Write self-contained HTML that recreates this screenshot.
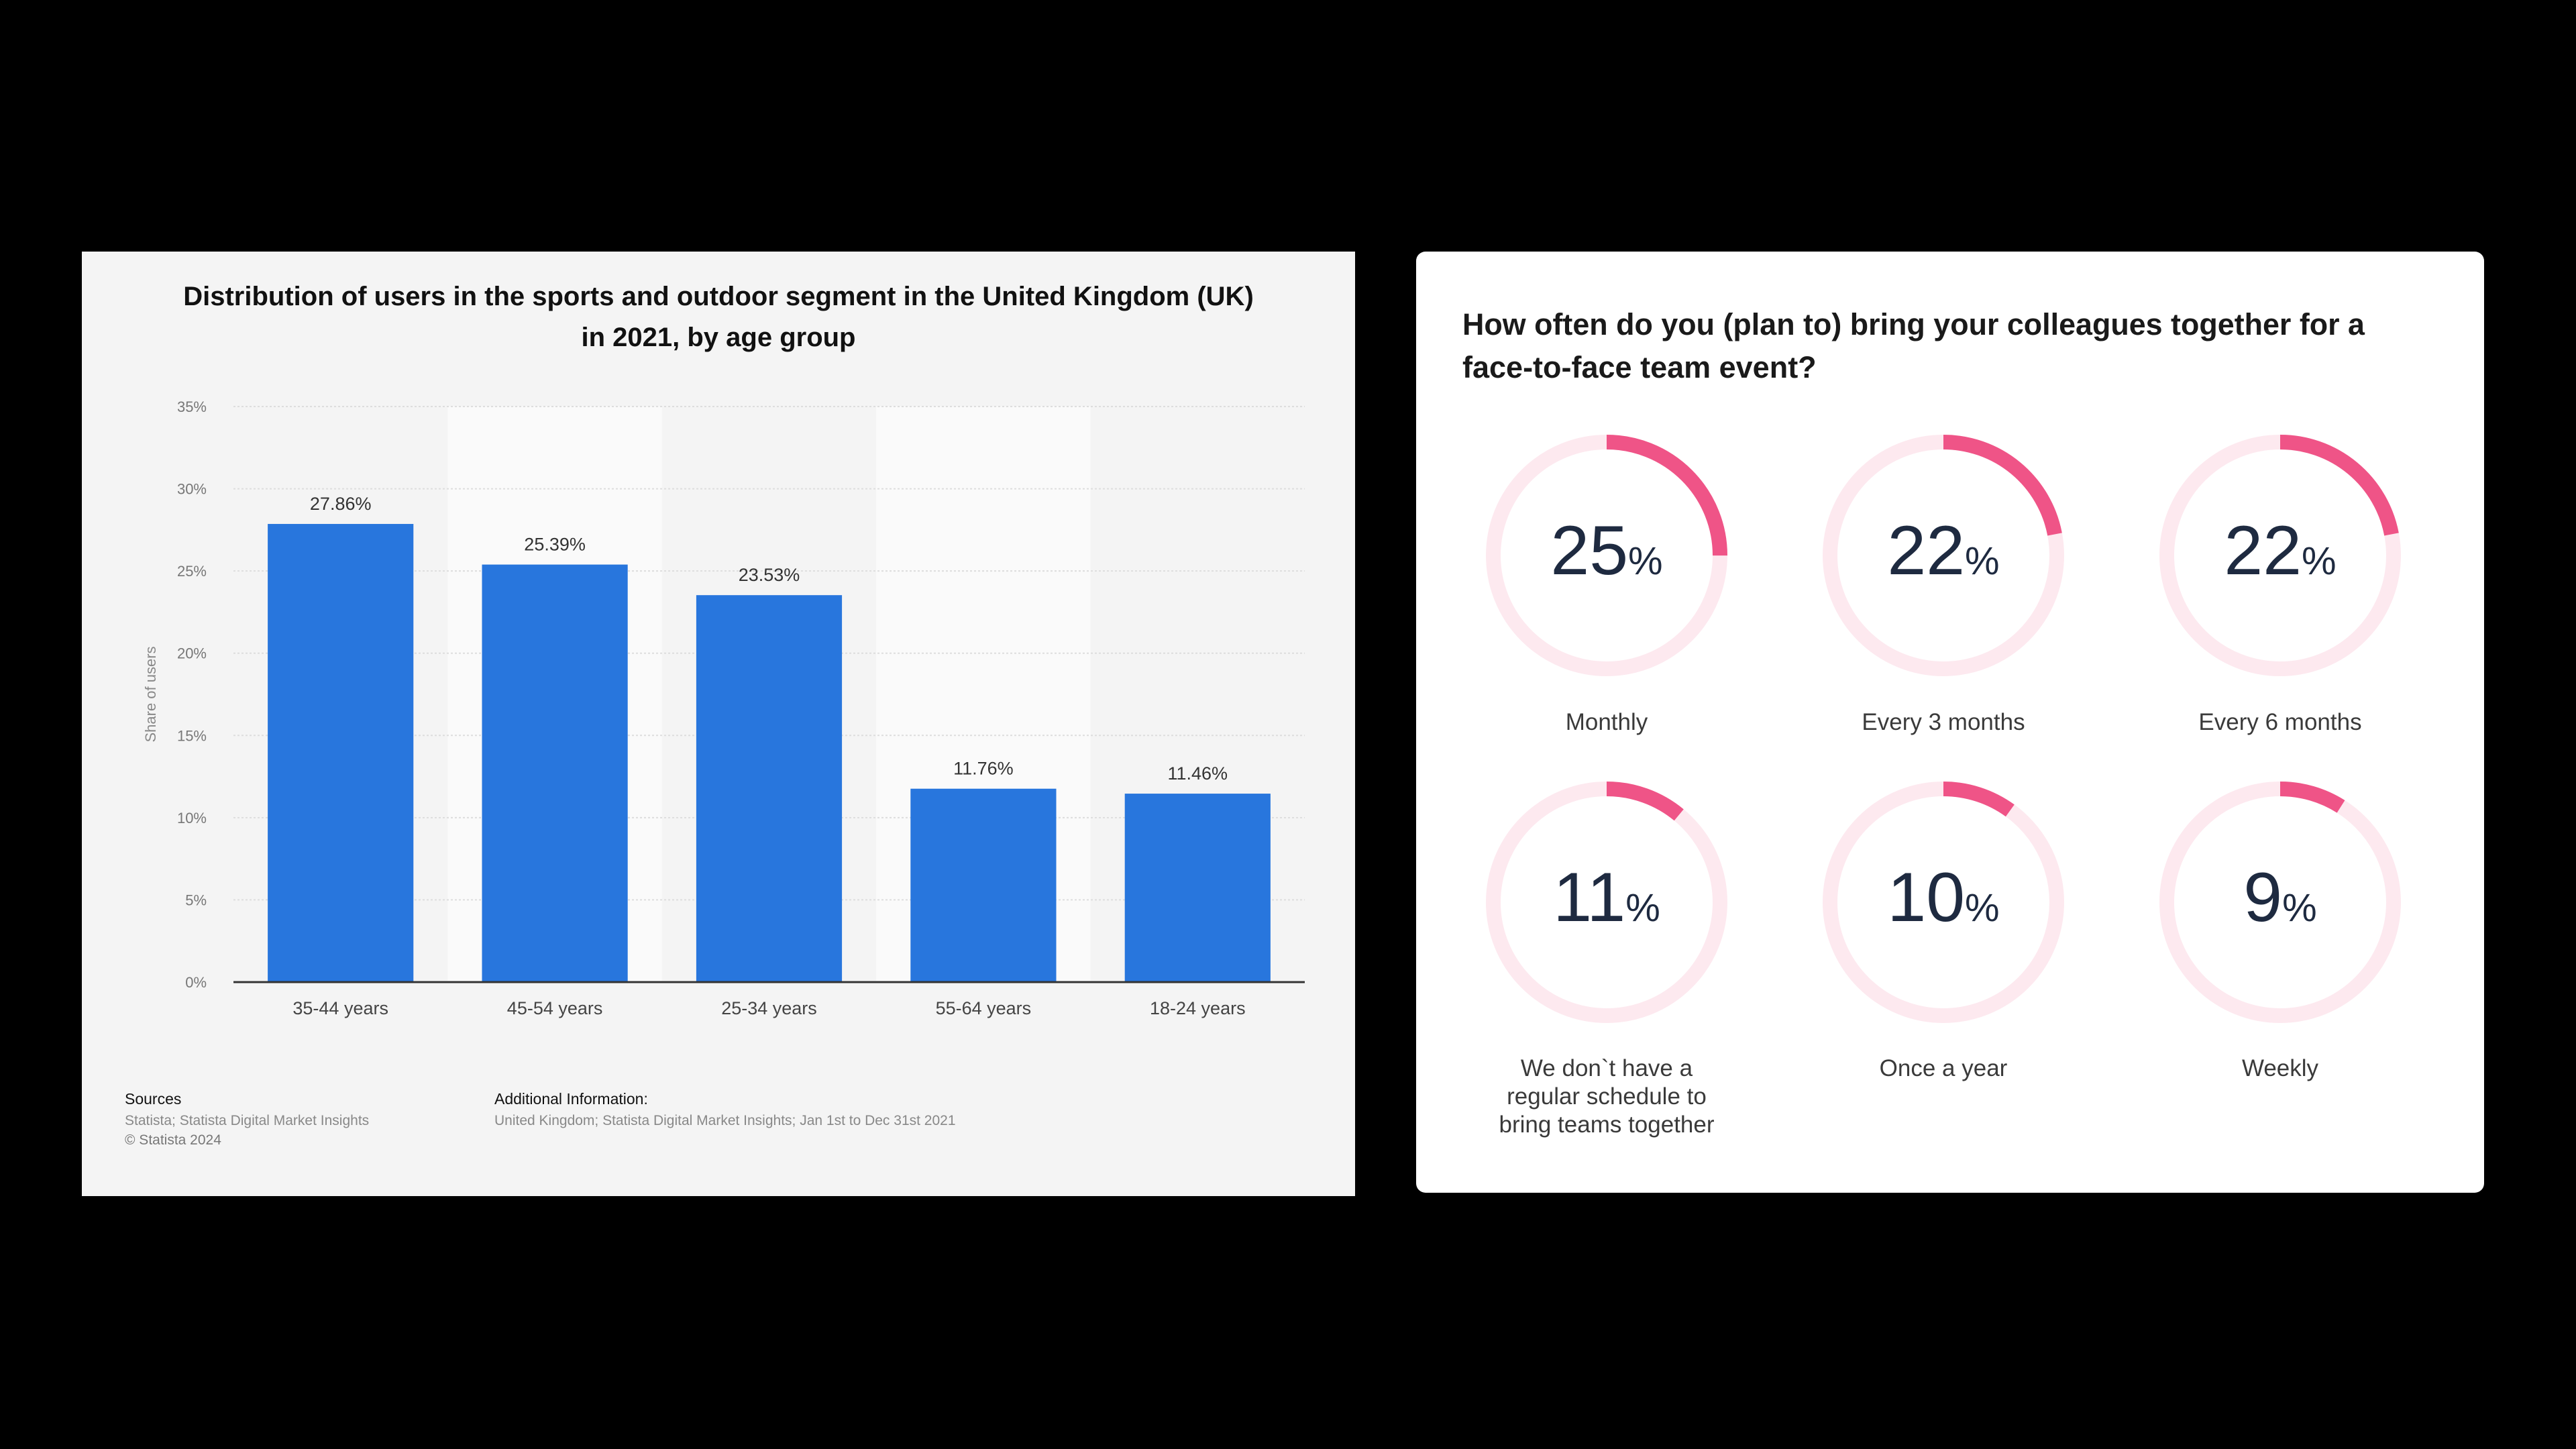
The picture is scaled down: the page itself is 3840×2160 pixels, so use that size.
<!DOCTYPE html>
<html><head><meta charset="utf-8"><style>
body{margin:0;width:3840px;height:2160px;background:#000;overflow:hidden;font-family:"Liberation Sans",sans-serif}
#left{position:absolute;left:122px;top:375px;width:1898px;height:1408px;background:#f4f4f4}
#right{position:absolute;left:2111px;top:375px;width:1592px;height:1403px;background:#fff;border-radius:14px}
</style></head><body>
<div id="left">
<svg id="bar" width="1898" height="1408"></svg>
</div>
<div id="right">
<svg id="donuts" width="1592" height="1403"></svg>
</div>
<script>
const categories=["35-44 years","45-54 years","25-34 years","55-64 years","18-24 years"];
const values=[27.86,25.39,23.53,11.76,11.46];
const valueLabels=["27.86%","25.39%","23.53%","11.76%","11.46%"];
const yTicks=[0,5,10,15,20,25,30,35];
const dLabels=[["Monthly"],["Every 3 months"],["Every 6 months"],["We don`t have a","regular schedule to","bring teams together"],["Once a year"],["Weekly"]];
const dValues=[25,22,22,11,10,9];
const NS="http://www.w3.org/2000/svg";
function mk(p,t,a,txt){const e=document.createElementNS(NS,t);for(const k in a)e.setAttribute(k,a[k]);if(txt!==undefined)e.textContent=txt;p.appendChild(e);return e;}
const b=document.getElementById('bar');
const x0=226,x1=1823,yb=1089,yt=231;
const y=v=>yb-(v/35)*(yb-yt);
const cw=(x1-x0)/categories.length;
let t=mk(b,'text',{x:949,y:80,'text-anchor':'middle','font-size':40,'font-weight':'bold',fill:'#111'},'Distribution of users in the sports and outdoor segment in the United Kingdom (UK)');

mk(b,'text',{x:949,y:141,'text-anchor':'middle','font-size':40,'font-weight':'bold',fill:'#111'},'in 2021, by age group');
categories.forEach((c,i)=>{if(i%2==1){const r=mk(b,'rect',{x:x0+cw*i,y:yt,width:cw,height:yb-yt,fill:'#fafafa'});}});
yTicks.forEach(v=>{
 if(v>0){const l=mk(b,'line',{x1:x0,x2:x1,y1:y(v),y2:y(v),stroke:'#ddd','stroke-width':2,'stroke-dasharray':'3 3'});}
 const tl=mk(b,'text',{x:186,y:y(v)+8,'text-anchor':'end','font-size':22,fill:'#777'},v+'%');
 
});
categories.forEach((c,i)=>{
 const cx=x0+cw*(i+0.5),bw=cw*0.68;
 const r=mk(b,'rect',{x:cx-bw/2,y:y(values[i]),width:bw,height:yb-y(values[i]),fill:'#2876dd'});
 
 const vl=mk(b,'text',{x:cx,y:y(values[i])-21,'text-anchor':'middle','font-size':27,fill:'#333'},valueLabels[i]);
 
 const xl=mk(b,'text',{x:cx,y:1137,'text-anchor':'middle','font-size':27,fill:'#444'},c);
 
});
mk(b,'line',{x1:x0,x2:x1,y1:yb,y2:yb,stroke:'#333','stroke-width':3});
t=mk(b,'text',{transform:'translate(110,660) rotate(-90)','text-anchor':'middle','font-size':22,fill:'#888'},'Share of users');

mk(b,'text',{x:64,y:1271,'font-size':23,fill:'#111'},'Sources');
mk(b,'text',{x:64,y:1302,'font-size':21,fill:'#888'},'Statista; Statista Digital Market Insights');
mk(b,'text',{x:64,y:1331,'font-size':21,fill:'#777'},'© Statista 2024');
mk(b,'text',{x:615,y:1271,'font-size':23,fill:'#111'},'Additional Information:');
mk(b,'text',{x:615,y:1302,'font-size':21,fill:'#888'},'United Kingdom; Statista Digital Market Insights; Jan 1st to Dec 31st 2021');
const d=document.getElementById('donuts');
t=mk(d,'text',{x:69,y:124,'font-size':45,'font-weight':'bold',fill:'#1a1a1a',textLength:1345,lengthAdjust:'spacingAndGlyphs'},'How often do you (plan to) bring your colleagues together for a');

mk(d,'text',{x:69,y:188,'font-size':45,'font-weight':'bold',fill:'#1a1a1a'},'face-to-face team event?');
const R=169,SW=22,C=2*Math.PI*R;
dValues.forEach((v,i)=>{
 const cx=284+502*(i%3),cy=453+517*Math.floor(i/3);
 const g=mk(d,'g',{});
 mk(g,'circle',{cx,cy,r:R,fill:'none',stroke:'#fde9ef','stroke-width':SW});
 const a=mk(g,'circle',{cx,cy,r:R,fill:'none',stroke:'#ef5487','stroke-width':SW,'stroke-dasharray':(C*v/100)+' '+C,transform:`rotate(-90 ${cx} ${cy})`});
 
 const n=mk(g,'text',{x:cx,y:cy+28,'text-anchor':'middle',fill:'#1e2a40','font-size':104});
 mk(n,'tspan',{},String(v));mk(n,'tspan',{'font-size':58},'%');
 dLabels[i].forEach((l,j)=>{const lt=mk(g,'text',{x:cx,y:(i<3?713:1229)+j*42,'text-anchor':'middle','font-size':35,fill:'#3a3a3a'},l);});
});
</script>
</body></html>
